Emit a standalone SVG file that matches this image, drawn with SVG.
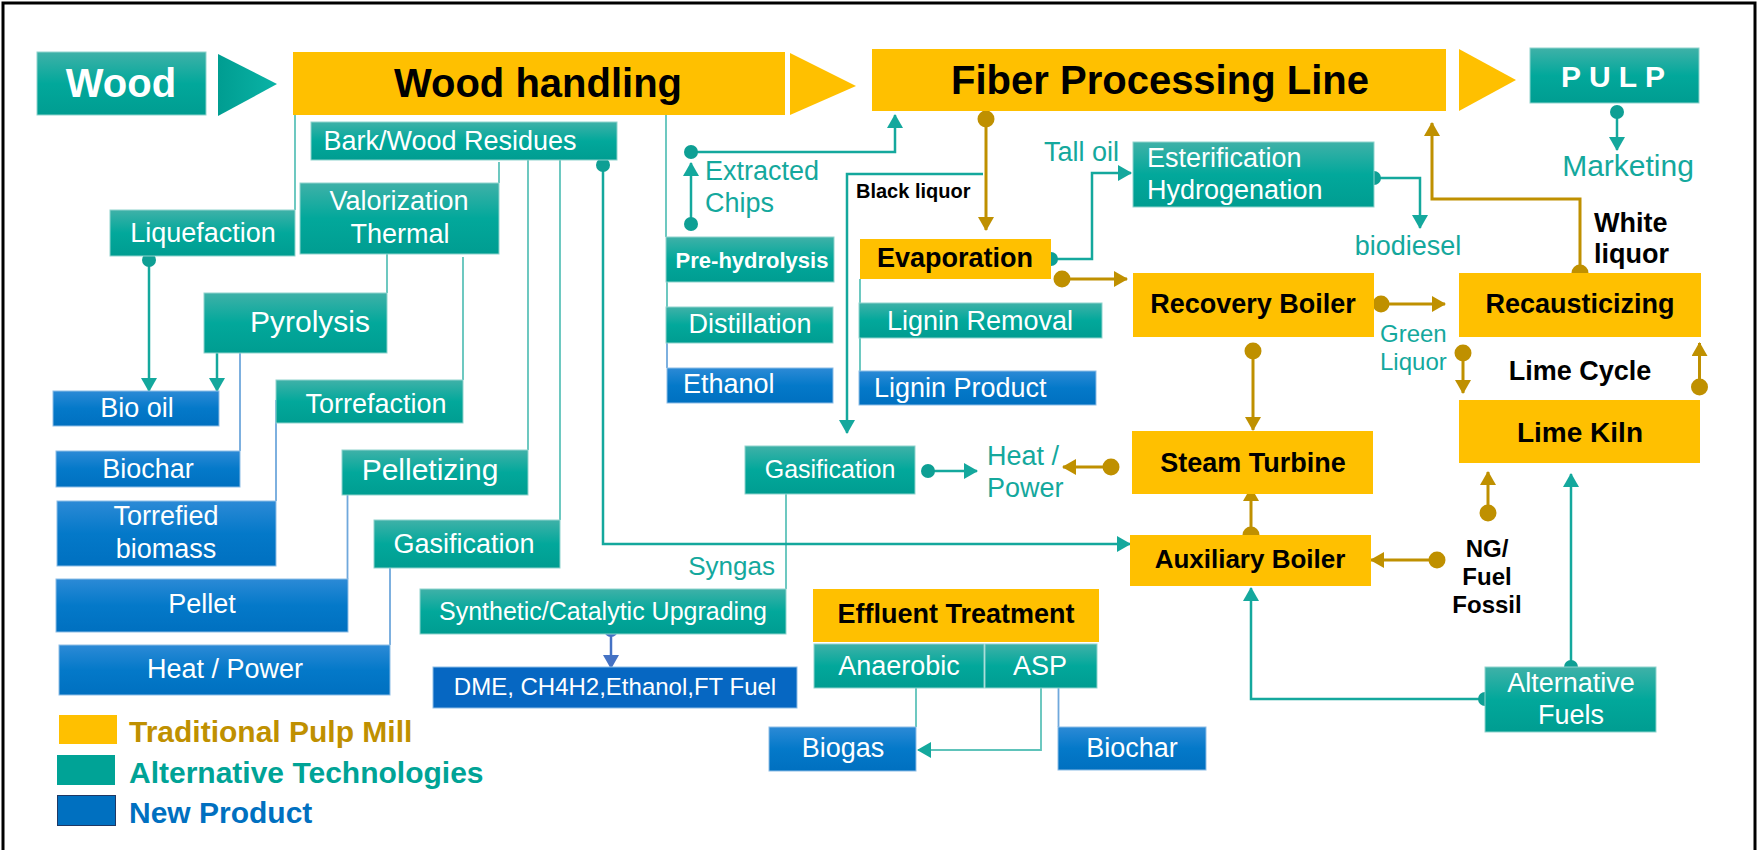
<svg xmlns="http://www.w3.org/2000/svg" width="1758" height="850" viewBox="0 0 1758 850">
<defs>
<linearGradient id="gt" x1="0" y1="0" x2="0" y2="1"><stop offset="0" stop-color="#3FB1A8"/><stop offset="0.5" stop-color="#02A89B"/><stop offset="1" stop-color="#009D91"/></linearGradient>
<linearGradient id="gb" x1="0" y1="0" x2="0" y2="1"><stop offset="0" stop-color="#2C8AD6"/><stop offset="0.5" stop-color="#0479C9"/><stop offset="1" stop-color="#0070C0"/></linearGradient>
<linearGradient id="gtri" x1="0" y1="0" x2="1" y2="0"><stop offset="0" stop-color="#009D91"/><stop offset="1" stop-color="#0AB3A6"/></linearGradient>
<marker id="at" viewBox="0 0 14 16" refX="13" refY="8" markerWidth="14" markerHeight="16" markerUnits="userSpaceOnUse" orient="auto"><path d="M0,0 L14,8 L0,16 z" fill="#14A89D"/></marker>
<marker id="ag" viewBox="0 0 14 16" refX="13" refY="8" markerWidth="14" markerHeight="16" markerUnits="userSpaceOnUse" orient="auto"><path d="M0,0 L14,8 L0,16 z" fill="#BF9000"/></marker>
<marker id="ab" viewBox="0 0 14 16" refX="13" refY="8" markerWidth="14" markerHeight="16" markerUnits="userSpaceOnUse" orient="auto"><path d="M0,0 L14,8 L0,16 z" fill="#4472C4"/></marker>
<marker id="dt" viewBox="0 0 16 16" refX="8" refY="8" markerWidth="16" markerHeight="16" markerUnits="userSpaceOnUse"><circle cx="8" cy="8" r="7" fill="#0E9F94"/></marker>
<marker id="dg" viewBox="0 0 18 18" refX="9" refY="9" markerWidth="18" markerHeight="18" markerUnits="userSpaceOnUse"><circle cx="9" cy="9" r="8.5" fill="#BF9000"/></marker>
<marker id="db" viewBox="0 0 16 16" refX="8" refY="8" markerWidth="16" markerHeight="16" markerUnits="userSpaceOnUse"><circle cx="8" cy="8" r="7" fill="#4472C4"/></marker>
</defs>
<style>
text{font-family:"Liberation Sans",Arial,sans-serif;}
.y{fill:#FFC000;}
.t{fill:url(#gt);stroke:#8FD3CD;stroke-width:1;}
.b{fill:url(#gb);stroke:#8DBDE6;stroke-width:1;}
.w{fill:#fff;font-size:27px;text-anchor:middle;}
.ws{fill:#fff;font-size:27px;text-anchor:start;}
.k{fill:#000;font-size:27px;font-weight:bold;text-anchor:middle;}
.tt{fill:#14A89D;font-size:27px;}
.lt{stroke:#14A89D;stroke-width:2.5;fill:none;}
.lg{stroke:#BF9000;stroke-width:3;fill:none;}
.th{stroke:#5EC3BA;stroke-width:1.8;fill:none;}
.tb{stroke:#6FA8DC;stroke-width:1.8;fill:none;}
</style>
<rect x="3" y="3" width="1752" height="900" fill="#fff" stroke="#000" stroke-width="3"/>

<g id="connectors">
<path class="th" d="M295,115 V210"/>
<path class="th" d="M499,162 V183"/>
<path class="th" d="M387,254 V293"/>
<path class="th" d="M463,257 V380"/>
<path class="th" d="M528,160 V450"/>
<path class="th" d="M560,160 V520"/>
<path class="tb" d="M240,353 V451"/>
<path class="tb" d="M276,400 V501"/>
<path class="tb" d="M347.5,495 V579"/>
<path class="tb" d="M390,568 V645"/>
<path class="th" d="M666,115 V237"/>
<path class="th" d="M667,282 V307"/>
<path class="tb" d="M667,343 V368"/>
<path class="th" d="M860,279 V371"/>
<path class="th" d="M786,494 V589"/>
<path class="th" d="M916,688 V727"/>
<path class="th" d="M1041,688 V750 H918" marker-end="url(#at)"/>
<path class="tb" d="M1058.5,688 V727"/>

<path class="lt" d="M149,260 V391" marker-start="url(#dt)" marker-end="url(#at)"/>
<path class="lt" d="M217,353 V391" marker-end="url(#at)"/>
<path class="lt" d="M1617,112 V150" marker-start="url(#dt)" marker-end="url(#at)"/>
<path class="lt" d="M691,224 V163" marker-start="url(#dt)" marker-end="url(#at)"/>
<path class="lt" d="M691,152 H895 V115" marker-start="url(#dt)" marker-end="url(#at)"/>
<path class="lt" d="M983,174 H847 V433" marker-end="url(#at)"/>
<path class="lt" d="M1051,259 H1092 V173 H1131" marker-start="url(#dt)" marker-end="url(#at)"/>
<path class="lt" d="M1374,178 H1420 V228" marker-start="url(#dt)" marker-end="url(#at)"/>
<path class="lt" d="M928,471 H977" marker-start="url(#dt)" marker-end="url(#at)"/>
<path class="lt" d="M603,165 V544 H1130" marker-start="url(#dt)" marker-end="url(#at)"/>
<path class="lt" d="M1485,699 H1251 V588" marker-start="url(#dt)" marker-end="url(#at)"/>
<path class="lt" d="M1571,667 V474" marker-start="url(#dt)" marker-end="url(#at)"/>
<path stroke="#4472C4" stroke-width="2.5" fill="none" d="M611,630 V668" marker-start="url(#db)" marker-end="url(#ab)"/>

<path class="lg" d="M986,119 V230" marker-start="url(#dg)" marker-end="url(#ag)"/>
<path class="lg" d="M1062,279 H1127" marker-start="url(#dg)" marker-end="url(#ag)"/>
<path class="lg" d="M1253,351 V430" marker-start="url(#dg)" marker-end="url(#ag)"/>
<path class="lg" d="M1111,467 H1063" marker-start="url(#dg)" marker-end="url(#ag)"/>
<path class="lg" d="M1251,535 V488" marker-start="url(#dg)" marker-end="url(#ag)"/>
<path class="lg" d="M1437,560 H1371" marker-start="url(#dg)" marker-end="url(#ag)"/>
<path class="lg" d="M1488,513 V472" marker-start="url(#dg)" marker-end="url(#ag)"/>
<path class="lg" d="M1381,304 H1445" marker-start="url(#dg)" marker-end="url(#ag)"/>
<path class="lg" d="M1463,353 V393" marker-start="url(#dg)" marker-end="url(#ag)"/>
<path class="lg" d="M1699.5,387 V343" marker-start="url(#dg)" marker-end="url(#ag)"/>
<path class="lg" d="M1580,273 V199 H1432 V123" marker-start="url(#dg)" marker-end="url(#ag)"/>
</g>

<g id="wood"><rect class="t" x="37" y="52" width="169" height="63"/><text x="121" y="97" fill="#fff" font-size="40" font-weight="bold" text-anchor="middle">Wood</text></g>
<g id="arrow1"><polygon points="218,54 277,84 218,116" fill="url(#gtri)"/></g>
<g id="wood-handling"><rect class="y" x="293" y="52" width="492" height="63"/><text x="538" y="97" font-size="40" font-weight="bold" text-anchor="middle" fill="#000">Wood handling</text></g>
<g id="arrow2"><polygon points="790,53 856,86 790,115" fill="#FFC000"/></g>
<g id="fiber"><rect class="y" x="872" y="49" width="574" height="62"/><text x="1160" y="94" font-size="40" font-weight="bold" text-anchor="middle" fill="#000">Fiber Processing Line</text></g>
<g id="arrow3"><polygon points="1459,49 1516,80 1459,111" fill="#FFC000"/></g>
<g id="pulp"><rect class="t" x="1530" y="48" width="169" height="55"/><text x="1561" y="87" fill="#fff" font-size="30" font-weight="bold" letter-spacing="8">PULP</text></g>
<g id="marketing"><text class="tt" x="1628" y="176" style="font-size:30px" text-anchor="middle">Marketing</text></g>

<g id="bark"><rect class="t" x="311" y="122" width="306" height="38"/><text class="w" x="450" y="150">Bark/Wood Residues</text></g>
<g id="liquefaction"><rect class="t" x="110" y="210" width="185" height="46"/><text class="w" x="203" y="242">Liquefaction</text></g>
<g id="valorization"><rect class="t" x="300" y="183" width="199" height="71"/><text class="w" x="399" y="210">Valorization</text><text class="w" x="400" y="243">Thermal</text></g>
<g id="pyrolysis"><rect class="t" x="204" y="293" width="183" height="60"/><text class="w" x="310" y="332" style="font-size:30px">Pyrolysis</text></g>
<g id="torrefaction"><rect class="t" x="276" y="380" width="187" height="43"/><text class="w" x="376" y="413">Torrefaction</text></g>
<g id="pelletizing"><rect class="t" x="342" y="450" width="186" height="45"/><text class="w" x="430" y="480" style="font-size:30px">Pelletizing</text></g>
<g id="gasification-l"><rect class="t" x="374" y="520" width="186" height="48"/><text class="w" x="464" y="553">Gasification</text></g>
<g id="bio-oil"><rect class="b" x="53" y="391" width="166" height="35"/><text class="w" x="137" y="417">Bio oil</text></g>
<g id="biochar-l"><rect class="b" x="56" y="451" width="184" height="36"/><text class="w" x="148" y="478">Biochar</text></g>
<g id="torrefied"><rect class="b" x="57" y="501" width="219" height="65"/><text class="w" x="166" y="525">Torrefied</text><text class="w" x="166" y="558">biomass</text></g>
<g id="pellet"><rect class="b" x="56" y="579" width="292" height="53"/><text class="w" x="202" y="613">Pellet</text></g>
<g id="heat-power-l"><rect class="b" x="59" y="645" width="331" height="50"/><text class="w" x="225" y="678">Heat / Power</text></g>

<g id="extracted"><text class="tt" x="705" y="180">Extracted</text><text class="tt" x="705" y="212">Chips</text></g>
<g id="prehydrolysis"><rect class="t" x="666" y="237" width="168" height="45"/><text x="752" y="268" fill="#fff" font-size="22" font-weight="bold" text-anchor="middle">Pre-hydrolysis</text></g>
<g id="distillation"><rect class="t" x="666" y="307" width="167" height="36"/><text class="w" x="750" y="333">Distillation</text></g>
<g id="ethanol"><rect class="b" x="667" y="368" width="166" height="35"/><text class="ws" x="683" y="393">Ethanol</text></g>
<g id="black-liquor"><text x="856" y="198" font-size="20" font-weight="bold" fill="#000">Black liquor</text></g>
<g id="evaporation"><rect class="y" x="860" y="239" width="191" height="40"/><text class="k" x="955" y="267">Evaporation</text></g>
<g id="lignin-removal"><rect class="t" x="859" y="303" width="243" height="35"/><text class="w" x="980" y="330">Lignin Removal</text></g>
<g id="lignin-product"><rect class="b" x="859" y="371" width="237" height="34"/><text class="ws" x="874" y="397">Lignin Product</text></g>
<g id="tall-oil"><text class="tt" x="1044" y="161">Tall oil</text></g>
<g id="esterification"><rect class="t" x="1133" y="142" width="241" height="65"/><text class="ws" x="1147" y="167">Esterification</text><text class="ws" x="1147" y="199">Hydrogenation</text></g>
<g id="biodiesel"><text class="tt" x="1408" y="255" text-anchor="middle">biodiesel</text></g>
<g id="recovery"><rect class="y" x="1133" y="273" width="241" height="64"/><text class="k" x="1253" y="313">Recovery Boiler</text></g>
<g id="green-liquor"><text class="tt" x="1380" y="342" style="font-size:24px">Green</text><text class="tt" x="1380" y="370" style="font-size:24px">Liquor</text></g>
<g id="recausticizing"><rect class="y" x="1459" y="273" width="242" height="64"/><text class="k" x="1580" y="313">Recausticizing</text></g>
<g id="white-liquor"><text x="1594" y="232" font-size="27" font-weight="bold" fill="#000">White</text><text x="1594" y="263" font-size="27" font-weight="bold" fill="#000">liquor</text></g>
<g id="lime-cycle"><text class="k" x="1580" y="380">Lime Cycle</text></g>
<g id="lime-kiln"><rect class="y" x="1459" y="400" width="241" height="63"/><text class="k" x="1580" y="442" style="font-size:28px">Lime Kiln</text></g>
<g id="gasification-m"><rect class="t" x="745" y="446" width="170" height="48"/><text class="w" x="830" y="478" style="font-size:25px">Gasification</text></g>
<g id="heat-power-m"><text class="tt" x="987" y="465">Heat /</text><text class="tt" x="987" y="497">Power</text></g>
<g id="steam"><rect class="y" x="1132" y="431" width="241" height="63"/><text class="k" x="1253" y="472">Steam Turbine</text></g>
<g id="aux"><rect class="y" x="1130" y="535" width="241" height="51"/><text class="k" x="1250" y="568" style="font-size:26px">Auxiliary Boiler</text></g>
<g id="ng"><text x="1487" y="557" font-size="24" font-weight="bold" text-anchor="middle" fill="#000">NG/</text><text x="1487" y="585" font-size="24" font-weight="bold" text-anchor="middle" fill="#000">Fuel</text><text x="1487" y="613" font-size="24" font-weight="bold" text-anchor="middle" fill="#000">Fossil</text></g>
<g id="alt-fuels"><rect class="t" x="1485" y="667" width="171" height="65"/><text class="w" x="1571" y="692">Alternative</text><text class="w" x="1571" y="724">Fuels</text></g>
<g id="syngas"><text class="tt" x="775" y="575" style="font-size:26px" text-anchor="end">Syngas</text></g>
<g id="synthetic"><rect class="t" x="420" y="589" width="366" height="45"/><text class="w" x="603" y="620" style="font-size:25px">Synthetic/Catalytic Upgrading</text></g>
<g id="dme"><rect x="433" y="667" width="364" height="41" fill="#0667C2" stroke="#8DBDE6" stroke-width="1"/><text class="w" x="615" y="695" style="font-size:24px">DME, CH4H2,Ethanol,FT Fuel</text></g>
<g id="effluent"><rect class="y" x="813" y="589" width="286" height="53"/><text class="k" x="956" y="623">Effluent Treatment</text></g>
<g id="anaerobic"><rect class="t" x="814" y="644" width="170" height="44"/><text class="w" x="899" y="675">Anaerobic</text></g>
<g id="asp"><rect class="t" x="985" y="644" width="112" height="44"/><text class="w" x="1040" y="675">ASP</text></g>
<g id="biogas"><rect class="b" x="769" y="727" width="147" height="44"/><text class="w" x="843" y="757">Biogas</text></g>
<g id="biochar-r"><rect class="b" x="1058" y="727" width="148" height="43"/><text class="w" x="1132" y="757">Biochar</text></g>

<g id="legend">
<rect x="59" y="715" width="58" height="29" fill="#FFC000"/>
<text x="129" y="742" font-size="30" font-weight="bold" fill="#BF9000">Traditional Pulp Mill</text>
<rect x="57" y="755" width="58" height="30" fill="#00A396"/>
<text x="129" y="783" font-size="30" font-weight="bold" fill="#00A396">Alternative Technologies</text>
<rect x="57.5" y="795.5" width="58" height="30" fill="#0070C0" stroke="#1F3864" stroke-width="1"/>
<text x="129" y="823" font-size="30" font-weight="bold" fill="#0070C0">New Product</text>
</g>
</svg>
